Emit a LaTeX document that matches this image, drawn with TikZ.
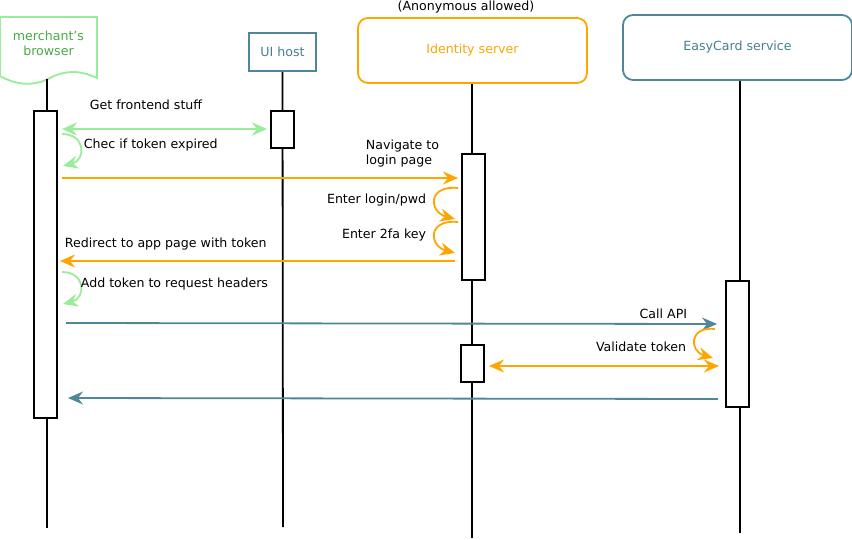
\documentclass[tikz,border=0pt]{standalone}
\usepackage{fontspec}
\setmainfont{DejaVu Sans}
\usepackage{xcolor}
\usetikzlibrary{arrows.meta}

\definecolor{lgreen}{HTML}{99EC99}
\definecolor{dgreen}{HTML}{45AD45}
\definecolor{idorange}{HTML}{FFA500}
\definecolor{ecblue}{HTML}{4F8799}
\definecolor{ectext}{HTML}{467E91}

\begin{document}
\begin{tikzpicture}[x=1pt,y=-1pt,line width=1.8pt,font=\fontsize{12.6}{15.5}\selectfont]
    \tikzstyle{tip}=[-{Stealth[length=15pt,width=13pt,inset=5pt]}]
    \tikzstyle{both}=[{Stealth[length=15pt,width=13pt,inset=5pt]}-{Stealth[length=15pt,width=13pt,inset=5pt]}]
    \tikzstyle{act}=[draw=black,fill=white,line width=1.8pt,minimum width=23pt,inner sep=0]
    \tikzstyle{head}=[line width=1.8pt,inner sep=0,align=center]
    \tikzstyle{lbl}=[inner sep=0,align=left]
    \useasboundingbox (0,0) rectangle (852,539);

    % heads
    \draw[lgreen,fill=white] (0,17) -- (97,17) -- (97,78)
        .. controls (80,70) and (65,70) .. (50,78)
        .. controls (35,86) and (18,86) .. (0,76) -- cycle;
    \node[head,text=dgreen] (browser) at (48.5,43.5) {merchant's\\browser};
    \node[head,draw=ecblue,text=ectext,minimum width=67pt,minimum height=38pt] (uihost) at (282.5,52) {UI host};
    \node[head,draw=idorange,text=idorange,rounded corners=10pt,minimum width=229pt,minimum height=65pt] (idsrv) at (472.5,50.5) {Identity server};
    \node[lbl] (anon) at (466,7) {(Anonymous allowed)};
    \node[head,draw=ecblue,text=ectext,rounded corners=10pt,minimum width=229pt,minimum height=65pt] (easycard) at (737.5,47.5) {EasyCard service};

    % lifelines
    \coordinate (bt) at (47,79);   \coordinate (bb) at (47,528);
    \coordinate (ub) at (283,527);
    \coordinate (ib) at (472,538);
    \coordinate (eb) at (740,533);
    \draw (bt) -- (bb);
    \draw (uihost.south) -- (ub);
    \draw (idsrv.south -| ib) -- (ib);
    \draw (easycard.south -| eb) -- (eb);

    % activations
    \node[act,minimum height=307pt] (bact) at (45.5,264.5) {};
    \node[act,minimum height=37pt] (uact) at (282.5,129.5) {};
    \node[act,minimum height=126pt] (iact) at (473.5,217) {};
    \node[act,minimum height=37pt] (iact2) at (472.5,363.5) {};
    \node[act,minimum height=126pt] (eact) at (737.5,344) {};

    % messages
    \coordinate (m1a) at (62,129);  \coordinate (m1b) at (267,129);
    \draw[both,lgreen] (m1a) -- (m1b);
    \node[lbl] (m1) at (146,104.5) {Get frontend stuff};

    \coordinate (l1a) at (62,134);  \coordinate (l1b) at (63,166);
    \draw[tip,lgreen] (l1a) .. controls (86,134) and (86,160) .. (l1b);
    \node[lbl,anchor=west] (l1) at (83,145.5) {Chec if token expired};

    \coordinate (m2a) at (62,178);  \coordinate (m2b) at (458,178);
    \draw[tip,idorange] (m2a) -- (m2b);
    \node[lbl,anchor=west] (m2) at (365,153.5) {Navigate to\\login page};

    \coordinate (l2a) at (458,188);  \coordinate (l2b) at (455,219);
    \draw[tip,idorange] (l2a) .. controls (427,185) and (429,212) .. (l2b);
    \node[lbl,anchor=east] (l2) at (427,200.5) {Enter login/pwd};

    \coordinate (l3a) at (458,222);  \coordinate (l3b) at (455,253);
    \draw[tip,idorange] (l3a) .. controls (427,219) and (429,246) .. (l3b);
    \node[lbl,anchor=east] (l3) at (427,235.5) {Enter 2fa key};

    \coordinate (m3a) at (455,261);  \coordinate (m3b) at (60,261);
    \draw[tip,idorange] (m3a) -- (m3b);
    \node[lbl,anchor=west] (m3) at (64,244.5) {Redirect to app page with token};

    \coordinate (l4a) at (62,272);  \coordinate (l4b) at (63,304);
    \draw[tip,lgreen] (l4a) .. controls (86,272) and (86,298) .. (l4b);
    \node[lbl,anchor=west] (l4) at (80,284.5) {Add token to request headers};

    \coordinate (m4a) at (66,323);  \coordinate (m4b) at (717,324);
    \draw[tip,ecblue] (m4a) -- (m4b);
    \node[lbl,anchor=east] (m4) at (688,313.5) {Call API};

    \coordinate (l5a) at (715,329);  \coordinate (l5b) at (713,358);
    \draw[tip,idorange] (l5a) .. controls (689,326) and (689,351) .. (l5b);
    \node[lbl,anchor=east] (l5) at (687,346.5) {Validate token};

    \coordinate (m5a) at (489,366);  \coordinate (m5b) at (719,366);
    \draw[both,idorange] (m5a) -- (m5b);

    \coordinate (m6a) at (718,399);  \coordinate (m6b) at (68,398);
    \draw[tip,ecblue] (m6a) -- (m6b);
\end{tikzpicture}
\end{document}
